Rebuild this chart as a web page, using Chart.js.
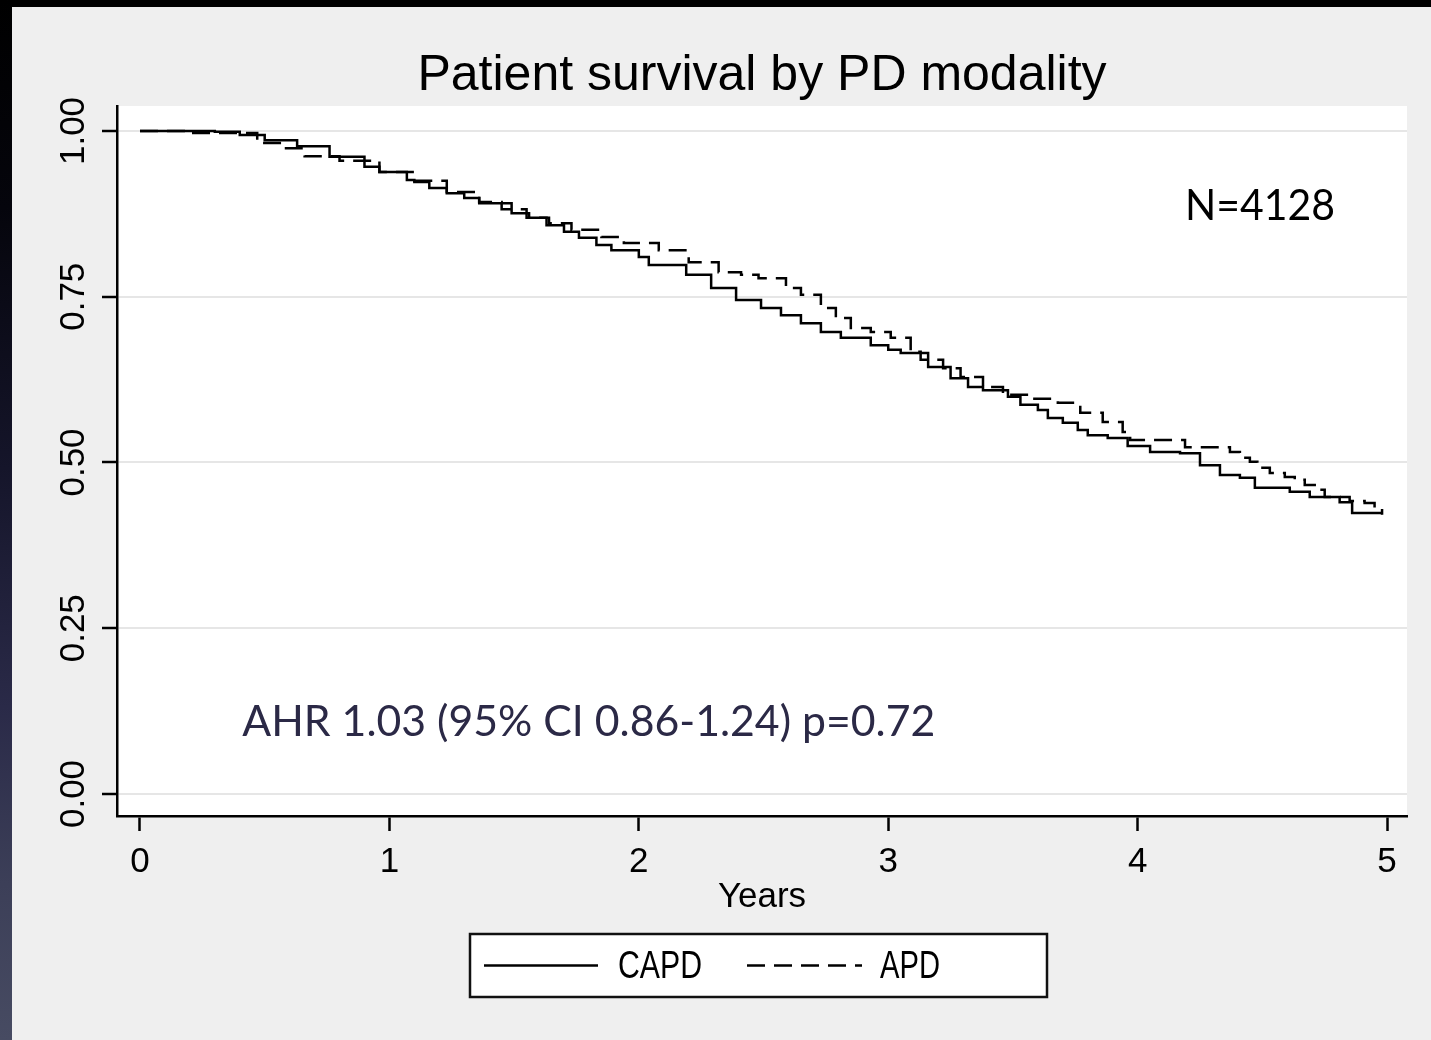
<!DOCTYPE html>
<html>
<head>
<meta charset="utf-8">
<script src="https://cdn.jsdelivr.net/npm/chart.js@4.4.1/dist/chart.umd.min.js"></script>
<style>
  html, body { margin: 0; padding: 0; background: #000; width: 1431px; height: 1040px; overflow: hidden; }
  #leftband { position: absolute; left: 0; top: 0; width: 12px; height: 1040px;
    background: linear-gradient(to bottom, #000000 0%, #05050c 20%, #15152a 45%, #2a2a48 68%, #3c3f58 85%, #474b62 100%); }
  #wrap { position: absolute; left: 12px; top: 7px; width: 1419px; height: 1033px; background: #efefef; }
  canvas { display: block; }
</style>
</head>
<body>
<div id="leftband"></div>
<div id="wrap"><canvas id="c" width="1419" height="1033"></canvas></div>
<script>
// ---- data ----
const seriesNames = ['CAPD', 'APD'];
const xTicks = [0, 1, 2, 3, 4, 5];
const yTicks = [0, 0.25, 0.5, 0.75, 1];

const capdTime = [0, 0.30, 0.40, 0.50, 0.63, 0.76, 0.90, 0.96, 1.07, 1.10, 1.16, 1.23, 1.30, 1.36, 1.49, 1.56, 1.63, 1.70, 1.76, 1.83, 1.89, 2.00, 2.04, 2.19, 2.29, 2.39, 2.49, 2.57, 2.65, 2.73, 2.81, 2.93, 3.00, 3.05, 3.16, 3.25, 3.32, 3.38, 3.48, 3.53, 3.60, 3.64, 3.70, 3.76, 3.80, 3.88, 3.96, 4.05, 4.17, 4.25, 4.33, 4.41, 4.47, 4.61, 4.69, 4.81, 4.86, 4.98];
const capdSurv = [1.000, 0.999, 0.994, 0.986, 0.977, 0.961, 0.946, 0.938, 0.926, 0.923, 0.914, 0.906, 0.899, 0.891, 0.876, 0.869, 0.858, 0.848, 0.839, 0.828, 0.820, 0.810, 0.798, 0.783, 0.763, 0.745, 0.733, 0.722, 0.710, 0.697, 0.688, 0.677, 0.670, 0.665, 0.644, 0.627, 0.614, 0.609, 0.599, 0.587, 0.579, 0.567, 0.560, 0.549, 0.541, 0.537, 0.525, 0.516, 0.514, 0.496, 0.481, 0.477, 0.462, 0.456, 0.448, 0.440, 0.424, 0.424];

const apdTime = [0, 0.20, 0.47, 0.57, 0.66, 0.80, 0.96, 1.10, 1.23, 1.36, 1.45, 1.55, 1.64, 1.73, 1.85, 1.94, 2.08, 2.20, 2.32, 2.41, 2.48, 2.59, 2.65, 2.73, 2.79, 2.85, 2.93, 3.01, 3.09, 3.13, 3.22, 3.29, 3.38, 3.46, 3.57, 3.68, 3.77, 3.86, 3.94, 3.97, 4.19, 4.37, 4.41, 4.45, 4.48, 4.53, 4.59, 4.63, 4.67, 4.71, 4.75, 4.85, 4.91, 4.95, 4.98];
const apdSurv = [1.000, 0.997, 0.982, 0.974, 0.962, 0.955, 0.938, 0.925, 0.908, 0.893, 0.882, 0.869, 0.861, 0.851, 0.840, 0.831, 0.820, 0.802, 0.787, 0.783, 0.778, 0.763, 0.753, 0.733, 0.718, 0.703, 0.697, 0.688, 0.667, 0.655, 0.642, 0.629, 0.614, 0.602, 0.596, 0.590, 0.575, 0.561, 0.546, 0.534, 0.523, 0.516, 0.507, 0.501, 0.492, 0.484, 0.478, 0.474, 0.466, 0.459, 0.448, 0.442, 0.439, 0.431, 0.421];

const titleText = 'Patient survival by PD modality';
const xTitleText = 'Years';
const noteN = 'N=4128';
const noteAHR = 'AHR 1.03 (95% CI 0.86-1.24) p=0.72';

// ---- chart ----
const SANS = '"Liberation Sans", Arial, sans-serif';
const NOTE_FONT = 'Lato, "Open Sans", sans-serif';
const DASH = [18, 9];

const toXY = (t, s) => t.map((v, i) => ({ x: v, y: s[i] }));

const plotBg = {
  id: 'plotBg',
  beforeDraw(chart) {
    const { ctx, chartArea: a } = chart;
    ctx.save();
    ctx.fillStyle = '#ffffff';
    ctx.fillRect(a.left, a.top, a.right - a.left, a.bottom - a.top);
    ctx.restore();
  }
};

const annotations = {
  id: 'annotations',
  afterDraw(chart) {
    const { ctx } = chart;
    const xs = chart.scales.x, ys = chart.scales.y;
    ctx.save();
    // N=4128
    ctx.fillStyle = '#000000';
    ctx.font = '43px ' + NOTE_FONT;
    ctx.textAlign = 'left';
    ctx.textBaseline = 'middle';
    ctx.fillText(noteN, xs.getPixelForValue(4.19), ys.getPixelForValue(0.886), 150);
    // AHR
    ctx.fillStyle = '#2b2946';
    ctx.fillText(noteAHR, xs.getPixelForValue(0.41), ys.getPixelForValue(0.109), 693);

    // legend box
    const bx = 458, by = 927, bw = 577, bh = 63;
    ctx.fillStyle = '#ffffff';
    ctx.fillRect(bx, by, bw, bh);
    ctx.strokeStyle = '#111111';
    ctx.lineWidth = 2.5;
    ctx.strokeRect(bx, by, bw, bh);
    const cy = by + bh / 2;
    const ds = chart.data.datasets;
    const samples = [[472, 586, 606, 84], [735, 850, 868, 60]];
    ds.forEach((d, i) => {
      const [x0, x1, tx, mw] = samples[i];
      ctx.beginPath();
      ctx.setLineDash(d.borderDash || []);
      ctx.lineWidth = 2.5;
      ctx.strokeStyle = '#000000';
      ctx.moveTo(x0, cy);
      ctx.lineTo(x1, cy);
      ctx.stroke();
      ctx.setLineDash([]);
      ctx.fillStyle = '#000000';
      ctx.font = '38px ' + SANS;
      ctx.textAlign = 'left';
      ctx.textBaseline = 'middle';
      ctx.fillText(d.label, tx, cy + 2, mw);
    });
    ctx.restore();
  }
};

new Chart(document.getElementById('c'), {
  type: 'line',
  data: {
    datasets: [
      { label: seriesNames[0], data: toXY(capdTime, capdSurv), borderColor: '#000000', borderWidth: 2.5,
        pointRadius: 0, stepped: true, fill: false },
      { label: seriesNames[1], data: toXY(apdTime, apdSurv), borderColor: '#000000', borderWidth: 2.5,
        borderDash: DASH, pointRadius: 0, stepped: true, fill: false }
    ]
  },
  options: {
    responsive: false,
    animation: false,
    devicePixelRatio: 1,
    layout: { padding: { left: 0, right: 24, top: 0, bottom: 0 } },
    plugins: {
      legend: { display: false },
      tooltip: { enabled: false },
      title: {
        display: true, text: titleText, fullSize: false, color: '#000000',
        font: { family: SANS, size: 50, weight: 'normal', lineHeight: 1.18 },
        padding: { top: 40, bottom: 0 }
      }
    },
    scales: {
      x: {
        type: 'linear', min: -0.0922, max: 5.080,
        afterBuildTicks: (s) => { s.ticks = xTicks.map(v => ({ value: v })); },
        afterFit: (s) => { s.height = 224; },
        border: { display: true, color: '#000000', width: 2.5 },
        grid: { drawOnChartArea: false, drawTicks: true, tickLength: 15, tickColor: '#000000', tickWidth: 2.5 },
        ticks: { autoSkip: false, maxRotation: 0, minRotation: 0, padding: 10, color: '#000000',
          font: { family: SANS, size: 35 }, callback: (v) => String(v) },
        title: { display: true, text: xTitleText, color: '#000000',
          font: { family: SANS, size: 35, lineHeight: 1.2 }, padding: { top: 0, bottom: 122 } }
      },
      y: {
        type: 'linear', min: -0.0332, max: 1.0377,
        afterBuildTicks: (s) => { s.ticks = yTicks.map(v => ({ value: v })); },
        afterFit: (s) => { s.width = 105; },
        border: { display: true, color: '#000000', width: 2.5 },
        grid: { drawOnChartArea: true, color: '#e6e6e6', lineWidth: 2, drawTicks: true, tickLength: 15,
          tickColor: '#000000', tickWidth: 2.5 },
        ticks: { autoSkip: false, minRotation: 90, maxRotation: 90, crossAlign: 'center', padding: -6,
          color: '#000000', font: { family: SANS, size: 35 }, callback: (v) => Number(v).toFixed(2) }
      }
    }
  },
  plugins: [plotBg, annotations]
});
</script>
</body>
</html>
